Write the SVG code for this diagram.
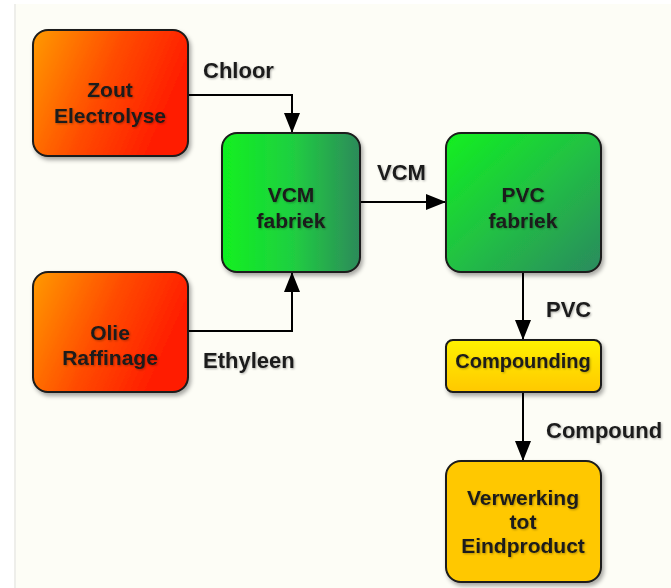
<svg xmlns="http://www.w3.org/2000/svg" width="671" height="588" viewBox="0 0 671 588">
<defs>
<linearGradient id="gRed" x1="0" y1="0" x2="1" y2="0.35">
<stop offset="0" stop-color="#ff9a00"/><stop offset="0.55" stop-color="#ff4a00"/><stop offset="1" stop-color="#ff1a00"/>
</linearGradient>
<linearGradient id="gVcm" x1="0" y1="0" x2="1" y2="0">
<stop offset="0" stop-color="#10f020"/><stop offset="0.5" stop-color="#1fd040"/><stop offset="1" stop-color="#2d8a5a"/>
</linearGradient>
<linearGradient id="gPvc" x1="0" y1="0" x2="1" y2="1">
<stop offset="0" stop-color="#10f020"/><stop offset="0.5" stop-color="#22c044"/><stop offset="1" stop-color="#2a8a5e"/>
</linearGradient>
<linearGradient id="gComp" x1="0" y1="0" x2="0" y2="1">
<stop offset="0" stop-color="#fff200"/><stop offset="1" stop-color="#ffc800"/>
</linearGradient>
<filter id="sh" x="-10%" y="-10%" width="130%" height="130%">
<feDropShadow dx="2" dy="3" stdDeviation="2" flood-color="#000" flood-opacity="0.35"/>
</filter>
<filter id="tsh" x="-10%" y="-20%" width="130%" height="150%">
<feDropShadow dx="1" dy="1" stdDeviation="1" flood-color="#000" flood-opacity="0.3"/>
</filter>
<marker id="arrB" viewBox="0 0 20 16" refX="20" refY="8" markerWidth="24" markerHeight="16" markerUnits="userSpaceOnUse" orient="auto">
<path d="M0,0 L20,8 L0,16 z" fill="#000"/>
</marker>
</defs>
<style>
.box{stroke:#1a1a1a;stroke-width:2;filter:url(#sh)}
.t{font-family:"Liberation Sans",Arial,sans-serif;font-weight:bold;font-size:21px;fill:#1a1a1a;text-anchor:middle;filter:url(#tsh)}
.lbl{font-family:"Liberation Sans",Arial,sans-serif;font-weight:bold;font-size:22px;fill:#1a1a1a;filter:url(#tsh)}
.c{fill:none;stroke:#000;stroke-width:2;marker-end:url(#arrB)}
</style>
<rect x="0" y="0" width="671" height="588" fill="#fdfdf6"/>
<rect x="0" y="0" width="14" height="588" fill="#ffffff"/>
<rect x="14" y="0" width="2" height="588" fill="#eeeeea"/>
<rect x="0" y="0" width="671" height="4" fill="#ffffff"/>

<g id="connectors">
<path class="c" d="M188,95 H292 V133"/>
<path class="c" d="M188,331 H292 V272"/>
<path class="c" d="M360,202 H446"/>
<path class="c" d="M523,272 V340"/>
<path class="c" d="M523,392 V461"/>
</g>

<g id="labels">
<text class="lbl" x="203" y="78">Chloor</text>
<text class="lbl" x="377" y="180">VCM</text>
<text class="lbl" x="546" y="317">PVC</text>
<text class="lbl" x="203" y="368">Ethyleen</text>
<text class="lbl" x="546" y="438">Compound</text>
</g>

<g id="zout">
<rect class="box" x="33" y="30" width="155" height="126" rx="15" fill="url(#gRed)"/>
<text class="t" x="110" y="97">Zout</text>
<text class="t" x="110" y="123">Electrolyse</text>
</g>
<g id="olie">
<rect class="box" x="33" y="272" width="155" height="120" rx="15" fill="url(#gRed)"/>
<text class="t" x="110" y="340">Olie</text>
<text class="t" x="110" y="365">Raffinage</text>
</g>
<g id="vcm">
<rect class="box" x="222" y="133" width="138" height="139" rx="15" fill="url(#gVcm)"/>
<text class="t" x="291" y="202">VCM</text>
<text class="t" x="291" y="228">fabriek</text>
</g>
<g id="pvc">
<rect class="box" x="446" y="133" width="155" height="139" rx="15" fill="url(#gPvc)"/>
<text class="t" x="523" y="202">PVC</text>
<text class="t" x="523" y="228">fabriek</text>
</g>
<g id="compounding">
<rect class="box" x="446" y="340" width="155" height="52" rx="7" fill="url(#gComp)"/>
<text class="t" x="523" y="368" style="font-size:20px">Compounding</text>
</g>
<g id="verwerking">
<rect class="box" x="446" y="461" width="155" height="121" rx="15" fill="#ffc800"/>
<text class="t" x="523" y="505">Verwerking</text>
<text class="t" x="523" y="529">tot</text>
<text class="t" x="523" y="553">Eindproduct</text>
</g>
</svg>
